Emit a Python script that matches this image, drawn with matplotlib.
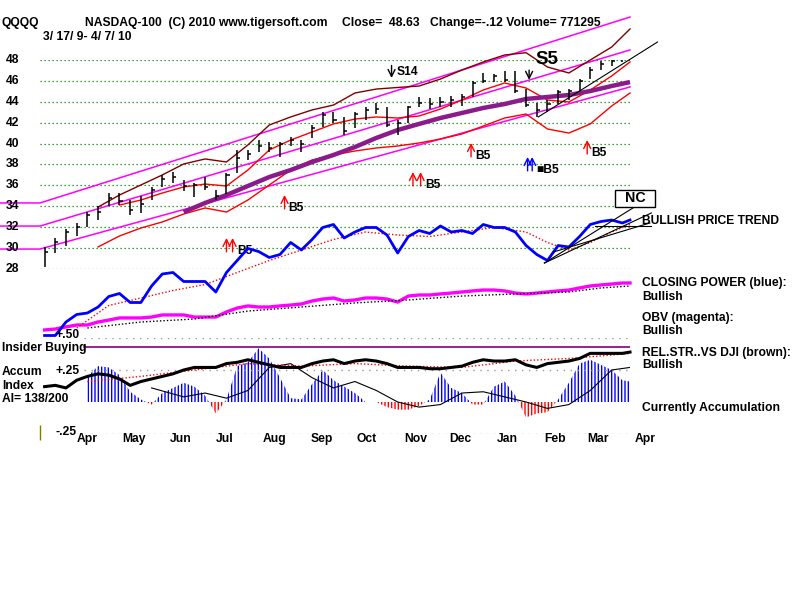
import matplotlib
matplotlib.use("Agg")
import matplotlib.pyplot as plt
import matplotlib.transforms as mtransforms
import numpy as np
import pandas as pd

plt.rcParams["font.family"] = ["Liberation Sans", "DejaVu Sans"]
plt.rcParams["font.weight"] = "bold"
plt.rcParams["hatch.linewidth"] = 1.0

nan = np.nan

# weekly bars (Fridays) plus the last bar on 4/7/10
weeks = pd.date_range("2009-03-20", "2010-04-02", freq="W-FRI").append(pd.DatetimeIndex(["2010-04-07"]))

high = [30.1, 31.0, 31.8, 32.4, 33.5, 34.0, 35.3, 35.3, 34.6, 35.0, 35.8, 37.0, 37.3, 36.5,
        36.2, 36.8, 35.6, 37.2, 39.4, 39.4, 40.3, 40.2, 40.2, 40.6, 40.3, 41.8, 43.0, 43.0,
        42.5, 43.0, 43.5, 43.9, 43.5, 42.3, 43.6, 44.5, 44.4, 44.5, 44.6, 44.7, 46.0, 46.8,
        46.7, 46.9, 46.9, 45.2, 43.9, 44.2, 45.1, 45.2, 46.2, 47.3, 47.9, 48.3, 48.6, 48.9]
low = [28.2, 29.5, 30.2, 31.2, 32.0, 32.7, 34.0, 34.1, 33.2, 33.4, 34.6, 35.8, 36.2, 35.5,
       34.9, 35.6, 34.6, 35.2, 37.2, 38.4, 39.2, 39.2, 38.7, 39.8, 39.2, 40.5, 41.6, 42.0,
       40.8, 41.5, 42.3, 42.8, 41.6, 40.8, 42.0, 43.5, 43.3, 43.5, 43.5, 43.6, 44.5, 45.8,
       45.9, 45.9, 44.8, 43.5, 42.5, 43.0, 43.8, 44.2, 45.0, 46.2, 47.0, 47.4, 47.8, 48.4]
close = [29.6, 30.6, 31.5, 32.0, 33.2, 33.5, 34.8, 34.5, 33.6, 34.2, 35.6, 36.6, 36.8, 35.9,
         36.0, 35.8, 35.0, 37.0, 38.6, 39.0, 39.8, 39.6, 40.0, 40.3, 40.0, 41.5, 42.7, 42.3,
         41.2, 42.8, 43.2, 43.3, 41.8, 42.0, 43.5, 43.9, 43.8, 44.0, 44.2, 44.5, 45.8, 46.0,
         46.5, 46.1, 45.0, 43.7, 43.2, 43.8, 44.9, 45.0, 46.0, 47.0, 47.6, 47.9, 48.5, 48.63]

# bands / moving averages, every other week
brown_band = [nan, nan, 33.93, 35.08, 36.04, 37.0, 38.05, 38.53, 38.24, 39.87, 41.78, 42.55,
              43.22, 43.69, 44.84, 45.22, 45.37, 45.51, 46.18, 47.04, 47.81, 48.48, 48.7,
              47.33, 46.76, 48.0, 49.24, 50.97]
red_mid = [nan, nan, nan, 34.12, 34.60, 35.27, 35.85, 36.13, 35.94, 37.47, 39.39, 40.34,
           41.11, 41.88, 42.35, 42.55, 42.45, 42.64, 43.31, 44.17, 45.13, 45.80, 45.32,
           44.17, 43.98, 45.13, 46.47, 47.81]
red_low = [nan, nan, 30.11, 31.16, 31.92, 32.50, 33.26, 33.84, 33.45, 34.60, 36.04, 37.47,
           38.43, 38.91, 39.29, 39.58, 39.77, 40.06, 40.44, 40.92, 41.68, 42.45, 42.83,
           41.40, 41.01, 41.88, 43.60, 44.84]
ma65 = [nan, nan, nan, nan, nan, nan, 33.45, 34.32, 35.08, 35.94, 36.80, 37.47, 38.24,
        38.91, 39.67, 40.54, 41.30, 41.88, 42.45, 42.93, 43.41, 43.79, 44.27, 44.46, 44.65,
        45.03, 45.51, 45.89]

# straight channel lines
chan_dates = ["2009-02-19", "2009-03-17", "2010-04-07"]
chan_top = [34.32, 34.32, 52.11]
chan_mid = [32.11, 32.11, 48.96]
chan_low = [29.91, 29.91, 45.42]
uptrend_dates = ["2010-02-06", "2010-04-25"]
uptrend = [42.55, 49.72]

# closing power (blue) and OBV (magenta), arbitrary units
closing_power = [3, 3, 12, 17, 18, 22, 29, 31, 25, 25, 36, 44, 45, 39, 39, 39, 32, 45, 53, 61,
                 59, 55, 57, 65, 60, 67, 75, 77, 68, 72, 75, 75, 70, 58, 69, 73, 71, 76, 72,
                 73, 71, 77, 75, 75, 72, 63, 57, 53, 63, 62, 69, 77, 79, 80, 78, 80]
cp_ma_idx = [3, 6, 9, 12, 15, 18, 21, 24, 27, 30, 33, 36, 39, 42, 45, 47, 49, 51, 53, 55]
cp_ma = [8, 23, 28, 33, 37, 45, 53, 60, 67, 72, 70, 69, 72, 75, 72, 65, 60, 65, 72, 77]
obv = [6.7, 7.3, 8.7, 10, 10, 12, 13.3, 14.7, 14.7, 14.7, 15.3, 16.7, 16.7, 16.7, 15.3, 15.3,
       15.3, 18.7, 21.3, 22.7, 22, 22, 22.7, 23.3, 24, 26, 27.3, 28, 26, 26.7, 28, 28, 27.3,
       25.3, 29.3, 30, 30, 30.7, 31.3, 32, 32.7, 33.3, 33.3, 32.7, 31.3, 30.7, 31.3, 32,
       32.7, 33.3, 34.7, 36, 36.7, 37.3, 38, 38]
obv_ma_idx = [4, 9, 14, 19, 24, 29, 34, 39, 44, 49, 52, 55]
obv_ma = [8, 12, 14, 19.3, 22, 24.7, 26.7, 29.3, 30.7, 32, 34.7, 36]
cp_trend_dates = [["2010-02-10", "2010-04-10"], ["2010-02-10", "2010-04-21"],
                  ["2010-02-16", "2010-04-20"], ["2010-03-15", "2010-04-21"]]
cp_trend_vals = [[51.3, 88.7], [51.3, 84.7], [58.7, 78], [76, 76]]

# lower panel: accumulation index, relative strength
accum = [0.20, 0.28, 0.27, 0.21, 0.08, 0.02, -0.02, 0.07, 0.11, 0.15, 0.12, 0.05, -0.09,
         0.02, 0.28, 0.31, 0.42, 0.34, 0.19, 0.03, 0.02, 0.14, 0.25, 0.17, 0.12, 0.07, 0.0,
         0.0, -0.04, -0.06, -0.06, -0.03, 0.02, 0.23, 0.11, 0.07, -0.02, -0.02, 0.12, 0.16,
         0.05, -0.12, -0.09, -0.08, 0.02, 0.15, 0.30, 0.33, 0.29, 0.25, 0.17, 0.16]
ai_ma_idx = [10, 13, 15, 17, 19, 21, 23, 25, 27, 29, 31, 33, 35, 37, 39, 41, 43, 45, 47, 49,
             51, 53, 55]
ai_ma = [0.11, 0.04, 0.07, 0.03, 0.09, 0.27, 0.30, 0.19, 0.11, 0.16, 0.09, 0.0, -0.04, -0.02,
         0.07, 0.08, 0.04, 0.0, -0.05, -0.02, 0.09, 0.25, 0.27]
rel_str = [0.12, 0.13, 0.11, 0.17, 0.20, 0.22, 0.21, 0.18, 0.13, 0.16, 0.18, 0.20, 0.22, 0.25,
           0.27, 0.27, 0.27, 0.30, 0.31, 0.33, 0.31, 0.29, 0.27, 0.27, 0.27, 0.30, 0.32, 0.33,
           0.30, 0.32, 0.33, 0.32, 0.30, 0.27, 0.27, 0.27, 0.26, 0.26, 0.27, 0.28, 0.31, 0.33,
           0.32, 0.32, 0.33, 0.29, 0.27, 0.30, 0.31, 0.32, 0.34, 0.38, 0.38, 0.38, 0.38, 0.39]
rs_ma_idx = [4, 9, 14, 19, 24, 29, 34, 39, 44, 49, 52, 55]
rs_ma = [0.16, 0.20, 0.25, 0.30, 0.28, 0.30, 0.28, 0.27, 0.32, 0.34, 0.36, 0.38]
insider_dates = ["2009-04-15", "2010-04-07"]
insider = [0.43, 0.43]

# signals
sig_dates = ["2009-07-17", "2009-07-21", "2009-08-24", "2009-11-16", "2009-11-21",
             "2009-12-24", "2010-01-30", "2010-02-02", "2010-03-10"]
sig_price = [30.97, 30.97, 35.08, 37.28, 37.28, 40.06, 38.72, 38.72, 40.34]
sig_color = ["red", "red", "red", "red", "red", "red", "blue", "blue", "red"]
sig_label = ["", "B5", "B5", "", "B5", "B5", "", "\u25a0B5", "B5"]

price_levels = [48, 46, 44, 42, 40, 38, 36, 34, 32, 30, 28]
month_names = ["Apr", "May", "Jun", "Jul", "Aug", "Sep", "Oct", "Nov", "Dec", "Jan", "Feb",
               "Mar", "Apr"]

FS = 8.7
W, H = 800, 600


def box(x0, y0, x1, y1):
    return [x0 / W, 1 - y1 / H, (x1 - x0) / W, (y1 - y0) / H]


def ftext(x, y, s, **kw):
    kw.setdefault("fontsize", FS)
    kw.setdefault("ha", "left")
    fig.text(x / W, 1 - y / H, s, va="center", fontweight="bold", **kw)


fig = plt.figure(figsize=(8, 6), dpi=100)
fig.patch.set_facecolor("white")

d0, d1 = pd.Timestamp("2009-03-17"), pd.Timestamp("2010-04-07")
ax_p = fig.add_axes(box(40, 60, 630, 269))
ax_c = fig.add_axes(box(40, 190, 630, 340), sharex=ax_p)
ax_i = fig.add_axes(box(40, 338, 630, 434), sharex=ax_p)
ax_p.set_xlim(d0, d1)
ax_p.set_ylim(28, 48)
ax_c.set_ylim(0, 100)
ax_i.set_ylim(-0.25, 0.5)
for a in (ax_p, ax_c, ax_i):
    a.set_axis_off()
    a.patch.set_visible(False)

# price panel
ax_p.hlines(price_levels, d0, d1, colors="#008000", linestyles=(0, (1, 2.2)), lw=0.9)
ytrans = mtransforms.blended_transform_factory(fig.transFigure, ax_p.transData)
for lv in price_levels:
    ax_p.text(6 / W, lv, str(lv), transform=ytrans, va="center", fontsize=FS, fontweight="bold")

bd = weeks[1::2]
for vals in (chan_top, chan_mid, chan_low):
    ax_p.plot(pd.to_datetime(chan_dates), vals, color="#FF00FF", lw=1.1, clip_on=False)
ax_p.plot(bd, brown_band, color="#800000", lw=1, clip_on=False)
ax_p.plot(bd, red_mid, color="#FF0000", lw=1, clip_on=False)
ax_p.plot(bd, red_low, color="#FF0000", lw=1, clip_on=False)
ax_p.plot(bd, ma65, color="#8B1A8B", lw=3.2, clip_on=False, solid_capstyle="butt")
ax_p.plot(pd.to_datetime(uptrend_dates), uptrend, color="black", lw=0.8, clip_on=False)

ax_p.vlines(weeks, low, high, color="black", lw=1.1)
ax_p.hlines(close, weeks, weeks + pd.Timedelta(days=2), color="black", lw=1.1)

arrow = "->,head_length=0.5,head_width=0.25"
for d, p, c, lab in zip(pd.to_datetime(sig_dates), sig_price, sig_color, sig_label):
    ax_p.annotate("", xy=(d, p), xytext=(0, -10), textcoords="offset points",
                  arrowprops=dict(arrowstyle=arrow, color=c, lw=1, shrinkA=0, shrinkB=0))
    if lab:
        ax_p.annotate(lab, xy=(d, p), xytext=(3, -9.5), textcoords="offset points",
                      ha="left", va="center", fontsize=FS, fontweight="bold")

s14 = pd.Timestamp("2009-11-02")
ax_p.annotate("", xy=(s14, 46.28), xytext=(0, 9), textcoords="offset points",
              arrowprops=dict(arrowstyle=arrow, color="black", lw=1, shrinkA=0, shrinkB=0))
ax_p.annotate("S14", xy=(s14, 46.28), xytext=(4, 4.5), textcoords="offset points",
              ha="left", va="center", fontsize=FS, fontweight="bold")
s5 = pd.Timestamp("2010-01-31")
ax_p.annotate("", xy=(s5, 46.1), xytext=(0, 7), textcoords="offset points",
              arrowprops=dict(arrowstyle=arrow, color="black", lw=1, shrinkA=0, shrinkB=0))
ax_p.text(pd.Timestamp("2010-02-04"), 48.0, "S5", ha="left", va="center",
          fontsize=13.5, fontweight="bold")

# closing power / OBV
ax_c.plot(weeks, obv, color="#FF00FF", lw=2.4, clip_on=False)
ax_c.plot(weeks[obv_ma_idx], obv_ma, color="black", ls=(0, (1, 1.5)), lw=1, clip_on=False)
ax_c.plot(weeks[cp_ma_idx], cp_ma, color="#FF0000", ls=(0, (1, 1.5)), lw=1, clip_on=False)
ax_c.plot(weeks, closing_power, color="#0000FF", lw=2, clip_on=False)
for dd, vv in zip(cp_trend_dates, cp_trend_vals):
    ax_c.plot(pd.to_datetime(dd), vv, color="black", lw=0.8, clip_on=False)

# accumulation panel
ld0 = pd.Timestamp("2009-04-15")
ax_i.hlines([0.5, 0.25], ld0, d1, colors="#999999", linestyles=(0, (1, 4)), lw=1)
ax_i.hlines([-0.25], pd.Timestamp("2009-04-10"), d1, colors="#999999",
            linestyles=(0, (1, 4)), lw=1)
ax_i.plot(pd.to_datetime(insider_dates), insider, color="#800080", lw=1.2)
ax_i.vlines([d0], -0.30, -0.18, color="#808000", lw=1, clip_on=False)

ai_d = weeks[4:]
ai_v = np.array(accum)
ax_i.fill_between(ai_d, 0, ai_v, where=ai_v >= 0, interpolate=True, facecolor="none",
                  edgecolor="#0000FF", hatch="|||||", lw=0)
ax_i.fill_between(ai_d, 0, ai_v, where=ai_v <= 0, interpolate=True, facecolor="none",
                  edgecolor="#FF0000", hatch="|||||", lw=0)
ax_i.plot(weeks[ai_ma_idx], ai_ma, color="black", lw=0.8)
ax_i.plot(weeks[rs_ma_idx], rs_ma, color="#FF0000", ls=(0, (1, 1.5)), lw=1)
ax_i.plot(weeks, rel_str, color="black", lw=2.2, clip_on=False)

month_starts = pd.date_range("2009-04-01", "2010-04-01", freq="MS")
for ms, name in zip(month_starts, month_names):
    ax_i.text(ms + pd.Timedelta(days=9), -0.29, name, ha="left", va="center",
              fontsize=FS, fontweight="bold", clip_on=False)

# NC box
fig.add_artist(plt.Rectangle((615 / W, 1 - 207 / H), 40 / W, 17 / H, transform=fig.transFigure,
                             facecolor="white", edgecolor="black", lw=1, zorder=5))
ftext(635, 198.5, "NC", ha="center", fontsize=10.3, zorder=6)

# texts
ftext(2, 23, "QQQQ")
ftext(85, 23, "NASDAQ-100  (C) 2010 www.tigersoft.com")
ftext(342, 23, "Close=  48.63")
ftext(430, 23, "Change=-.12 Volume= 771295")
ftext(43, 37, "3/ 17/ 9- 4/ 7/ 10")

ftext(642, 221, "BULLISH PRICE TREND")
ftext(642, 283, "CLOSING POWER (blue):")
ftext(642, 296.5, "Bullish")
ftext(642, 318, "OBV (magenta):")
ftext(642, 331.5, "Bullish")
ftext(642, 353, "REL.STR..VS DJI (brown):")
ftext(642, 365.5, "Bullish")
ftext(642, 408, "Currently Accumulation")

ftext(55, 335.5, "+.50")
ftext(2, 347.5, "Insider Buying")
ftext(2, 372, "Accum")
ftext(55, 371, "+.25")
ftext(2, 386, "Index")
ftext(2, 399, "AI= 138/200")
ftext(55, 432, "-.25")

fig.savefig("out.png", dpi=100, facecolor="white")
